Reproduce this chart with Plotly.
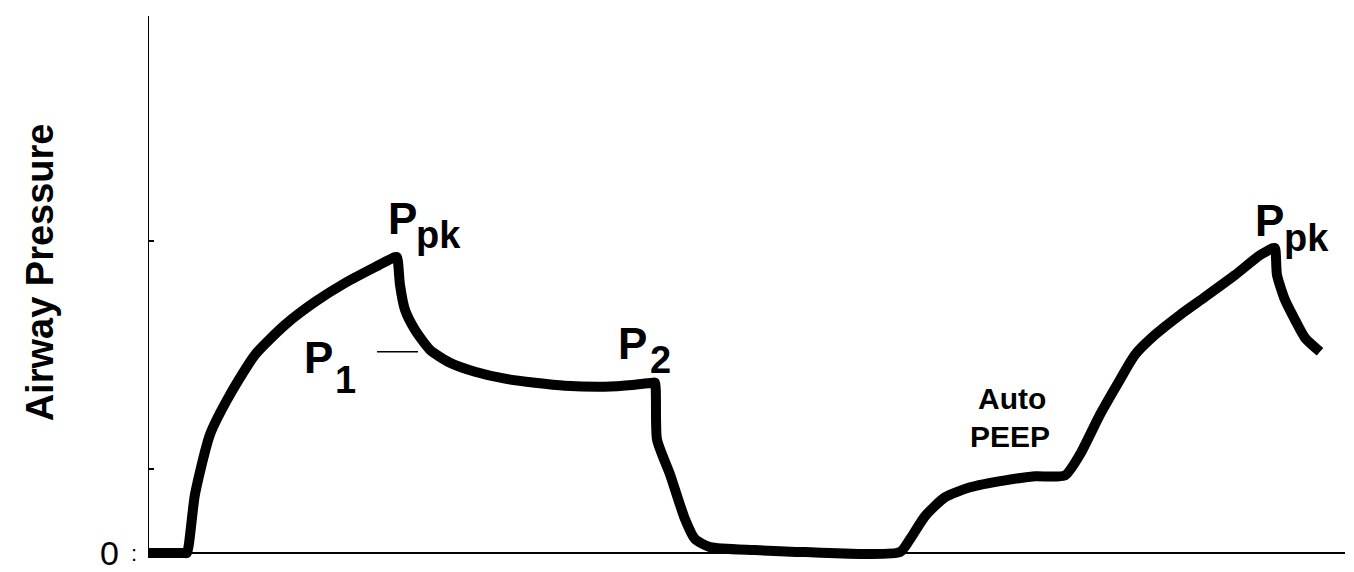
import plotly.graph_objects as go

# Time (arbitrary units, s) and airway pressure (arbitrary units)
time = [0.00, 0.37, 0.39, 0.47, 0.62, 0.82, 1.07, 1.37, 1.67, 1.97, 2.27, 2.47,
        2.49, 2.52, 2.57, 2.67, 2.82, 3.02, 3.27, 3.57, 3.87, 4.17, 4.57, 4.87, 5.05,
        5.07, 5.09, 5.22, 5.37, 5.47, 5.62, 6.07, 6.57, 7.52,
        7.62, 7.77, 7.97, 8.22, 8.57, 8.87, 9.17,
        9.32, 9.52, 9.72, 9.87, 10.07, 10.32, 10.57, 10.87, 11.12, 11.25,
        11.27, 11.29, 11.37, 11.47, 11.57, 11.72]
pressure = [0.0, 0.0, 0.0, 5.9, 11.9, 15.9, 19.9, 22.9, 25.2, 27.1, 28.7, 29.7,
            29.7, 26.9, 24.4, 22.4, 20.4, 19.1, 18.2, 17.5, 17.1, 16.8, 16.7, 16.9, 17.1,
            17.1, 11.4, 7.9, 3.4, 1.4, 0.6, 0.3, 0.1, 0.1,
            1.4, 3.7, 5.6, 6.6, 7.3, 7.7, 7.8,
            9.9, 13.9, 17.4, 19.9, 21.9, 23.9, 25.7, 27.9, 29.9, 30.6,
            30.6, 27.9, 25.4, 23.4, 21.6, 20.2]

x_max = 11.97
y_max = 53.9
y_ticks = [0, 8.4, 31.3]
y_tick_text = ["0", "", ""]

# Labels: (base text, base x, base y, sub text, sub x, sub y)
labels = [
    ("P", 2.54, 33.6, "pk", 2.90, 31.9),
    ("P", 11.21, 33.4, "pk", 11.58, 31.6),
    ("P", 1.70, 19.6, "1", 1.97, 17.4),
    ("P", 4.84, 21.0, "2", 5.12, 19.4),
]
auto_peep = ("Auto", 8.64, 15.5, "PEEP", 8.62, 11.7)
p1_leader = ([2.29, 2.70], [20.2, 20.2])

fig = go.Figure()
fig.add_trace(go.Scatter(x=time, y=pressure, mode="lines",
                         line=dict(color="black", width=10, shape="spline", smoothing=0.6),
                         hoverinfo="skip", showlegend=False))
fig.add_trace(go.Scatter(x=p1_leader[0], y=p1_leader[1], mode="lines",
                         line=dict(color="black", width=1.5),
                         hoverinfo="skip", showlegend=False))

bold = dict(family="Liberation Sans, Arial, sans-serif", color="black", weight="bold")
for base, bx, by, sub, sx, sy in labels:
    fig.add_annotation(x=bx, y=by, text=base, showarrow=False,
                       font=dict(size=44, **bold), xanchor="center", yanchor="middle")
    fig.add_annotation(x=sx, y=sy, text=sub, showarrow=False,
                       font=dict(size=38, **bold), xanchor="center", yanchor="middle")

fig.add_annotation(x=auto_peep[1], y=auto_peep[2], text=auto_peep[0], showarrow=False,
                   font=dict(size=30, **bold), xanchor="center", yanchor="middle")
fig.add_annotation(x=auto_peep[4], y=auto_peep[5], text=auto_peep[3], showarrow=False,
                   font=dict(size=30, **bold), xanchor="center", yanchor="middle")

# Axis title
fig.add_annotation(xref="paper", yref="paper", x=-0.0905, y=0.535,
                   text="Airway Pressure", textangle=-90, showarrow=False,
                   font=dict(size=38, family="Liberation Sans Narrow, Arial Narrow, Liberation Sans, Arial",
                             color="black", weight="bold"),
                   xanchor="center", yanchor="middle")
# dotted mark beside the zero label
fig.add_annotation(xref="paper", yref="y", x=-0.012, y=0, text=":", showarrow=False,
                   font=dict(size=22, family="Liberation Sans, Arial", color="black"),
                   xanchor="center", yanchor="middle")

# Axis lines
fig.add_shape(type="line", x0=0, x1=x_max, y0=0, y1=0, xref="x", yref="y",
              line=dict(color="black", width=2))
fig.add_shape(type="line", x0=0, x1=0, y0=0, y1=y_max, xref="x", yref="y",
              line=dict(color="black", width=2))

fig.update_layout(
    width=1354, height=572,
    margin=dict(l=140, r=17, t=8, b=10),
    paper_bgcolor="white", plot_bgcolor="white",
    showlegend=False,
    xaxis=dict(range=[0, x_max], showgrid=False, zeroline=False, showline=False,
               showticklabels=False, ticks=""),
    yaxis=dict(range=[-1.5, y_max], showgrid=False, zeroline=False, showline=False,
               tickvals=y_ticks, ticktext=y_tick_text, ticks="inside", ticklen=6,
               tickwidth=2, tickcolor="black", ticklabelstandoff=28,
               tickfont=dict(size=34, family="Liberation Sans, Arial", color="black")),
)

fig.write_html("out.html")
